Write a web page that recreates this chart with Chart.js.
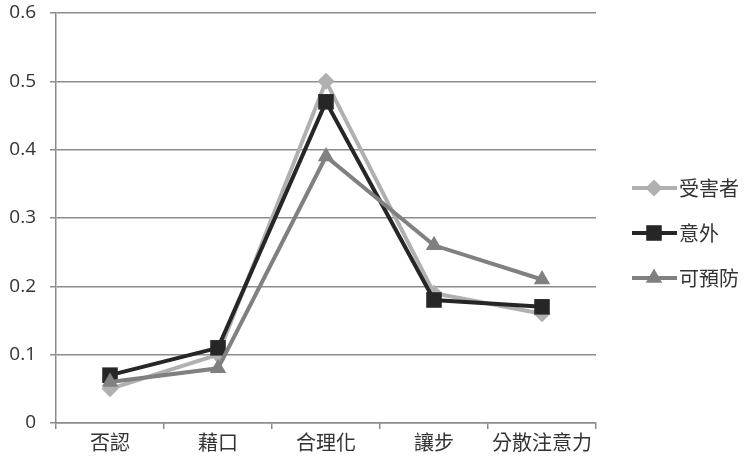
<!DOCTYPE html>
<html>
<head>
<meta charset="utf-8">
<script src="https://cdn.jsdelivr.net/npm/chart.js@4/dist/chart.umd.min.js"></script>
<style>
html,body{margin:0;padding:0;background:#fff;}
#wrap{width:746px;height:464px;position:relative;}
</style>
</head>
<body>
<div id="wrap"><canvas id="c" width="746" height="464"></canvas></div>
<script>
const categories = ['否認', '藉口', '合理化', '讓步', '分散注意力'];
const victim = [0.05, 0.10, 0.50, 0.19, 0.16];
const accident = [0.07, 0.11, 0.47, 0.18, 0.17];
const preventable = [0.06, 0.08, 0.39, 0.26, 0.21];
const seriesNames = ['受害者', '意外', '可預防'];
const yTicks = [0, 0.1, 0.2, 0.3, 0.4, 0.5, 0.6];

const FONT = '"Noto Sans CJK TC", "Noto Sans", sans-serif';
const NUMFONT = '"Open Sans", "Noto Sans", sans-serif';
const colors = ['#b0b0b0', '#262626', '#808080'];
const styles = ['rectRot', 'rect', 'triangle'];
const radii = [8.5, 11, 9.5];

const legendPlugin = {
  id: 'sideLegend',
  afterDraw(chart) {
    const ctx = chart.ctx;
    const ys = [188, 233, 278];
    chart.data.datasets.forEach((ds, i) => {
      const y = ys[i];
      ctx.save();
      ctx.strokeStyle = ds.borderColor;
      ctx.lineWidth = 4;
      ctx.beginPath();
      ctx.moveTo(632, y);
      ctx.lineTo(677, y);
      ctx.stroke();
      ctx.fillStyle = ds.borderColor;
      Chart.helpers.drawPoint(ctx, {pointStyle: ds.pointStyle, radius: ds.pointRadius, borderWidth: 0, rotation: 0}, 654, y);
      ctx.fillStyle = '#333';
      ctx.font = '20px ' + FONT;
      ctx.textBaseline = 'middle';
      ctx.textAlign = 'left';
      ctx.fillText(ds.label, 679, y);
      ctx.restore();
    });
  }
};

const data = {
  labels: categories,
  datasets: [victim, accident, preventable].map((vals, i) => ({
    label: seriesNames[i],
    data: vals,
    borderColor: colors[i],
    backgroundColor: colors[i],
    pointBackgroundColor: colors[i],
    pointBorderColor: colors[i],
    pointBorderWidth: 0,
    pointHoverRadius: 0,
    borderWidth: 4,
    pointStyle: styles[i],
    pointRadius: radii[i],
    tension: 0,
    clip: false,
    order: 3 - i
  }))
};

new Chart(document.getElementById('c'), {
  type: 'line',
  data,
  plugins: [legendPlugin],
  options: {
    responsive: false,
    animation: false,
    devicePixelRatio: 1,
    layout: {padding: {top: 13, right: 150, left: 0, bottom: 0}},
    plugins: {legend: {display: false}, tooltip: {enabled: false}},
    scales: {
      x: {
        offset: true,
        grid: {display: true, drawOnChartArea: false, drawTicks: true, tickLength: 6, color: '#8c8c8c', lineWidth: 1.5, offset: true},
        border: {display: true, color: '#8c8c8c', width: 1.5},
        ticks: {color: '#333', font: {family: FONT, size: 20}, padding: 1, maxRotation: 0},
        afterFit(s) { s.height = 41; s.paddingLeft = 0; s.paddingRight = 0; }
      },
      y: {
        min: 0, max: 0.6,
        afterBuildTicks(s) { s.ticks = yTicks.map(v => ({value: v})); },
        grid: {color: '#8c8c8c', lineWidth: 1.5, tickLength: 6, drawTicks: true},
        border: {display: true, color: '#8c8c8c', width: 1.5},
        ticks: {color: '#333', font: {family: NUMFONT, size: 19}, padding: 14,
          callback: v => String(Math.round(v * 10) / 10)},
        afterFit(s) { s.width = 56; s.paddingTop = 0; s.paddingBottom = 0; }
      }
    }
  }
});
</script>
</body>
</html>
